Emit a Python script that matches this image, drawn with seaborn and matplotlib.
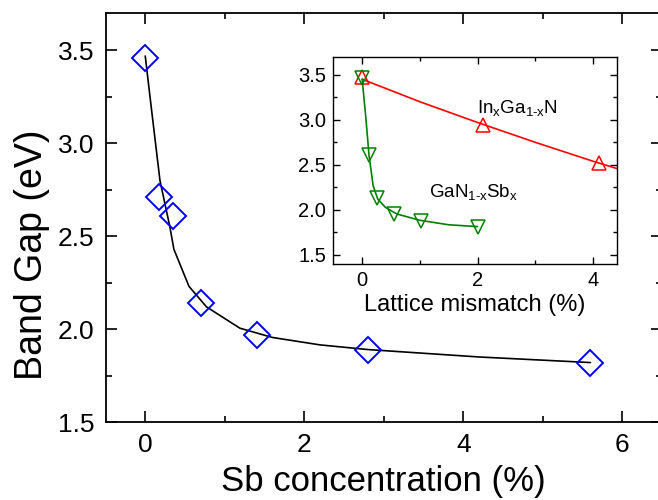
import matplotlib
matplotlib.use("Agg")
import matplotlib.pyplot as plt
import seaborn as sns
import pandas as pd
from matplotlib.ticker import MultipleLocator

# ---- main data: GaNSb band gap vs Sb concentration ----
sb_conc = [0, 0.175, 0.35, 0.7, 1.4, 2.8, 5.6]
band_gap = [3.46, 2.71, 2.61, 2.14, 1.97, 1.89, 1.82]
fit_x = [0, 0.06, 0.185, 0.31, 0.36, 0.55, 0.77, 1.19, 1.6, 2.2, 2.8, 3.5, 4.2, 4.9, 5.6]
fit_y = [3.47, 3.25, 2.80, 2.55, 2.43, 2.23, 2.12, 2.005, 1.955, 1.915, 1.89, 1.87, 1.85, 1.835, 1.82]

# ---- inset data: band gap vs lattice mismatch ----
ingan_x = [0, 2.1, 4.1]
ingan_y = [3.47, 2.94, 2.52]
ingan_fit_x = [0, 1, 2, 3, 4, 4.41]
ingan_fit_y = [3.45, 3.20, 2.97, 2.75, 2.54, 2.46]
gansb_x = [0, 0.12, 0.25, 0.555, 1.02, 2.0]
gansb_y = [3.46, 2.61, 2.13, 1.96, 1.88, 1.81]
gansb_fit_x = [0, 0.06, 0.12, 0.19, 0.27, 0.4, 0.6, 1.0, 1.5, 2.0]
gansb_fit_y = [3.45, 3.05, 2.60, 2.27, 2.12, 2.03, 1.955, 1.885, 1.835, 1.815]

sns.set_style("ticks")
plt.rcParams['font.family'] = ['Liberation Sans', 'DejaVu Sans']
plt.rcParams['mathtext.fontset'] = 'custom'
plt.rcParams['mathtext.rm'] = 'Liberation Sans'
plt.rcParams['mathtext.it'] = 'Liberation Sans'
plt.rcParams.update({
    'xtick.direction': 'in', 'ytick.direction': 'in',
    'xtick.top': True, 'ytick.right': True,
    'axes.linewidth': 1.3, 'axes.edgecolor': 'black',
    'text.color': 'black', 'axes.labelcolor': 'black',
    'xtick.color': 'black', 'ytick.color': 'black',
})

fig = plt.figure(figsize=(6.58, 5.00), dpi=100)
ax = fig.add_axes([105.5/658, 1-422/500, (662-105.5)/658, (422-13.3)/500])

df_fit = pd.DataFrame({'x': fit_x, 'y': fit_y})
df_pts = pd.DataFrame({'x': sb_conc, 'y': band_gap})
sns.lineplot(data=df_fit, x='x', y='y', ax=ax, color='black', lw=1.2,
             estimator=None, sort=False)
sns.lineplot(data=df_pts, x='x', y='y', ax=ax, linestyle='', marker='D',
             markersize=13, markerfacecolor='none', markeredgecolor='#0000FF',
             markeredgewidth=1.4, estimator=None, sort=False)

ax.set_xlim(-0.5, 6.5)
ax.set_ylim(1.5, 3.7)
ax.xaxis.set_major_locator(MultipleLocator(2))
ax.xaxis.set_minor_locator(MultipleLocator(1))
ax.yaxis.set_major_locator(MultipleLocator(0.5))
ax.yaxis.set_minor_locator(MultipleLocator(0.25))
ax.tick_params(which='major', length=8, width=1.2, labelsize=19, pad=8, colors='black')
ax.tick_params(which='minor', length=4.5, width=1.2)
ax.set_xlabel('Sb concentration (%)', fontsize=25, labelpad=6)
ax.set_ylabel('Band Gap (eV)', fontsize=27)
ax.yaxis.set_label_coords(-0.1, 0.41)
for s in ax.spines.values():
    s.set_color('black')

# ---- inset ----
ins = fig.add_axes([333.3/658, 1-264/500, (616.7-333.3)/658, (264-56.7)/500])
df_r = pd.DataFrame({'x': ingan_fit_x, 'y': ingan_fit_y})
df_rp = pd.DataFrame({'x': ingan_x, 'y': ingan_y})
df_g = pd.DataFrame({'x': gansb_fit_x, 'y': gansb_fit_y})
df_gp = pd.DataFrame({'x': gansb_x, 'y': gansb_y})
sns.lineplot(data=df_r, x='x', y='y', ax=ins, color='#FF0000', lw=1.2,
             estimator=None, sort=False)
sns.lineplot(data=df_g, x='x', y='y', ax=ins, color='#008000', lw=1.2,
             estimator=None, sort=False)
sns.lineplot(data=df_rp, x='x', y='y', ax=ins, linestyle='', marker='^',
             markersize=10, markerfacecolor='none', markeredgecolor='#FF0000',
             markeredgewidth=1.1, estimator=None, sort=False)
sns.lineplot(data=df_gp, x='x', y='y', ax=ins, linestyle='', marker='v',
             markersize=10, markerfacecolor='none', markeredgecolor='#008000',
             markeredgewidth=1.1, estimator=None, sort=False)
ins.set_xlim(-0.5, 4.41)
ins.set_ylim(1.4, 3.7)
ins.xaxis.set_major_locator(MultipleLocator(2))
ins.xaxis.set_minor_locator(MultipleLocator(1))
ins.yaxis.set_major_locator(MultipleLocator(0.5))
ins.yaxis.set_minor_locator(MultipleLocator(0.25))
ins.tick_params(which='major', length=5, width=1.0, labelsize=14.5, pad=5, colors='black')
ins.tick_params(which='minor', length=3, width=1.0)
ins.set_xlabel('Lattice mismatch (%)', fontsize=17, labelpad=3)
ins.set_ylabel('')
for s in ins.spines.values():
    s.set_color('black')
    s.set_linewidth(1.0)

ins.text(1.99, 3.07, r'$\mathregular{In_xGa_{1\text{-}x}N}$', fontsize=13.5, ha='left', va='baseline')
ins.text(1.156, 2.14, r'$\mathregular{GaN_{1\text{-}x}Sb_x}$', fontsize=13.5, ha='left', va='baseline')

fig.savefig('out.png', dpi=100)
